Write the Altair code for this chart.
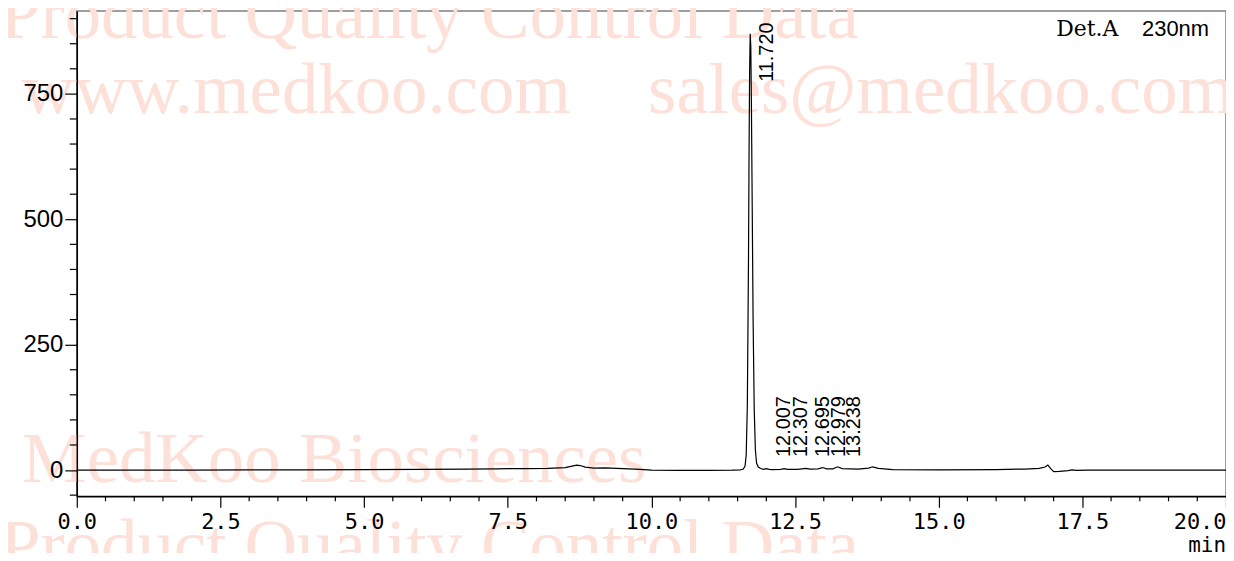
import altair as alt
import pandas as pd

# ---- chromatogram trace ----
time_min = [0.0, 1.0, 2.0, 3.0, 4.0, 5.0, 6.0, 6.8, 7.3, 7.8, 8.2, 8.5, 8.62, 8.7, 8.76, 8.85,
            9.0, 9.2, 9.5, 9.8, 10.0, 10.5, 11.0, 11.4, 11.55, 11.6, 11.63, 11.65, 11.67, 11.69,
            11.70, 11.71, 11.72, 11.73, 11.74, 11.755, 11.77, 11.79, 11.81, 11.83, 11.86, 11.9,
            11.95, 12.0, 12.05, 12.1, 12.25, 12.31, 12.37, 12.55, 12.69, 12.76, 12.9, 12.98,
            13.05, 13.16, 13.24, 13.32, 13.6, 13.78, 13.85, 13.95, 14.2, 15.0, 16.0, 16.5,
            16.75, 16.85, 16.9, 16.95, 17.0, 17.1, 17.25, 17.32, 17.4, 17.6, 18.5, 19.5, 20.0]
signal_mau = [0, 0, 0, 0.3, 0.5, 0.8, 1.2, 1.8, 2.5, 3, 3.5, 5, 8, 10, 9, 6,
              4, 4.5, 3, 1.5, 0, -0.5, -0.5, -0.3, 0.5, 2, 8, 30, 130, 420,
              640, 800, 870, 845, 740, 520, 300, 120, 40, 14, 6, 3,
              1.5, 3, 1.5, 1, 1.5, 3, 1.5, 1.5, 3.5, 2, 2.5, 5,
              2.5, 2.5, 6.5, 3, 2, 4, 6.5, 3.5, 1, 0.5, 1, 2,
              3.5, 6, 10, 3, -3, -2.5, -1, 0.5, -0.5, 0, 0, 0, 0]

# ---- peak labels ----
peak_times = [11.720, 12.007, 12.307, 12.695, 12.979, 13.238]
peak_labels = ["11.720", "12.007", "12.307", "12.695", "12.979", "13.238"]
label_level = [774, 26, 26, 26, 26, 26]

# ---- axis ticks ----
x_major = [0.0, 2.5, 5.0, 7.5, 10.0, 12.5, 15.0, 17.5, 20.0]
x_minor = [0.5, 1.0, 1.5, 2.0, 3.0, 3.5, 4.0, 4.5, 5.5, 6.0, 6.5, 7.0, 8.0, 8.5, 9.0, 9.5,
           10.5, 11.0, 11.5, 12.0, 13.0, 13.5, 14.0, 14.5, 15.5, 16.0, 16.5, 17.0, 18.0,
           18.5, 19.0, 19.5]
y_major = [0, 250, 500, 750]
y_minor = [-50, 50, 100, 150, 200, 300, 350, 400, 450, 550, 600, 650, 700, 800, 850, 900]

watermarks = ["Product Quality Control Data", "www.medkoo.com", "sales@medkoo.com",
              "MedKoo Biosciences", "Product Quality Control Data"]

W, H = 1153, 487
xs = alt.Scale(domain=[0, 20], nice=False)
ys = alt.Scale(domain=[-52.3, 915.5], nice=False)

trace = pd.DataFrame({"t": time_min, "s": signal_mau})
labs = pd.DataFrame({"t": peak_times, "s": label_level, "lab": peak_labels})
dummy = pd.DataFrame({"a": [0]})

wm_pos = [(-77, 27), (-55, 102), (573, 102), (-55, 473), (-77, 560)]
wm_layers = [
    alt.Chart(dummy).mark_text(text=txt, font="Liberation Serif", fontSize=73,
                               color="#fde0d8", align="left", baseline="alphabetic")
    .encode(x=alt.value(px), y=alt.value(py))
    for txt, (px, py) in zip(watermarks, wm_pos)
]

x_axis = alt.Axis(values=x_major, format=".1f", tickSize=11, tickColor="black",
                  domainColor="black", domainWidth=1.5, tickWidth=1.2,
                  labelFont="DejaVu Sans Mono", labelFontSize=22, labelColor="black",
                  labelPadding=4, labelFlush=False,
                  labelAlign={"condition": {"test": "datum.value == 20", "value": "right"},
                              "value": "center"},
                  grid=False, title=None, zindex=1)
y_axis = alt.Axis(values=y_major, tickSize=12, tickColor="black", domainColor="black",
                  domainWidth=1.5, tickWidth=1.2, labelFont="Liberation Sans",
                  labelFontSize=24, labelColor="black", labelPadding=2, grid=False,
                  title=None, zindex=1)

X = lambda: alt.X("t:Q", scale=xs, axis=x_axis)
Y = lambda: alt.Y("s:Q", scale=ys, axis=y_axis)

line = alt.Chart(trace).mark_line(color="black", strokeWidth=1.2).encode(x=X(), y=Y())

minor_x = alt.Chart(pd.DataFrame({"t": x_minor})).mark_rule(color="black", strokeWidth=1.2).encode(
    x=X(), y=alt.value(H), y2=alt.value(H + 5))
minor_y = alt.Chart(pd.DataFrame({"s": y_minor})).mark_rule(color="black", strokeWidth=1.2).encode(
    y=Y(), x=alt.value(-7), x2=alt.value(0))

peak_text = alt.Chart(labs).mark_text(angle=270, align="left", baseline="middle", dy=17,
                                      font="Liberation Sans", fontSize=20, color="black").encode(
    x=X(), y=Y(), text="lab:N")

det = alt.Chart(dummy).mark_text(text="Det.A", font="DejaVu Serif", fontSize=22,
                                 align="right", baseline="alphabetic", color="black").encode(
    x=alt.value(1045), y=alt.value(25))
nm = alt.Chart(dummy).mark_text(text="230nm", font="Liberation Sans", fontSize=22,
                                align="right", baseline="alphabetic", color="black").encode(
    x=alt.value(1136), y=alt.value(25))
unit = alt.Chart(dummy).mark_text(text="min", font="DejaVu Sans Mono", fontSize=21,
                                  align="right", baseline="alphabetic", color="black").encode(
    x=alt.value(W), y=alt.value(543))

chart = alt.layer(*wm_layers, line, minor_x, minor_y, peak_text, det, nm, unit).properties(
    width=W, height=H,
    autosize=alt.AutoSizeParams(type="none"),
    padding={"left": 69, "top": 2, "right": 0, "bottom": 56},
).configure_view(stroke="#808080", strokeWidth=1.5)

chart.save("out.html", embed_options={"renderer": "svg", "actions": False})
